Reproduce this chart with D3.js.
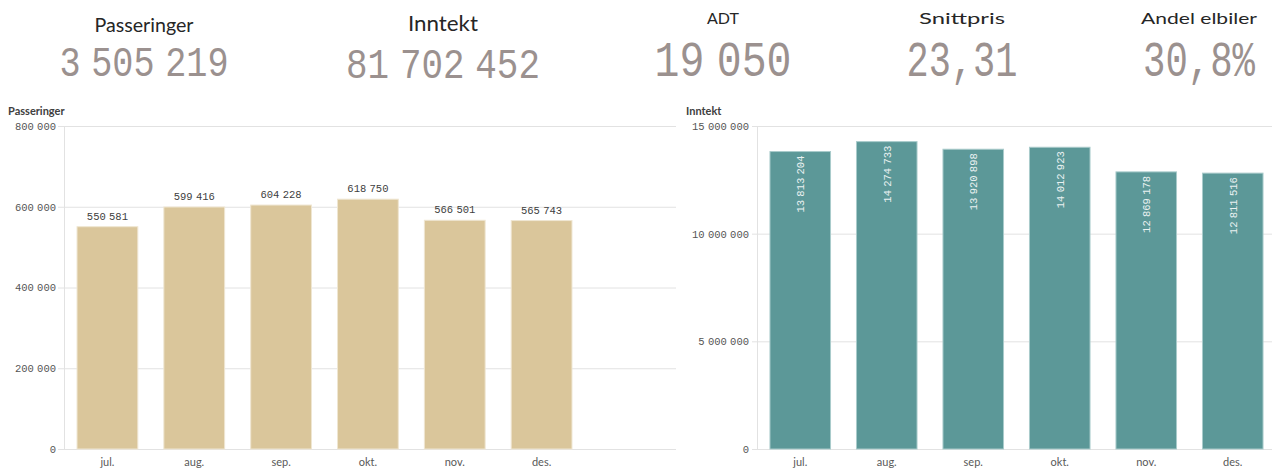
<!DOCTYPE html>
<html><head><meta charset="utf-8">
<script src="https://cdn.jsdelivr.net/npm/d3@7"></script>
<style>
html,body{margin:0;padding:0;background:#fff;}
svg{display:block;}
</style></head>
<body><svg id="c" width="1278" height="471"></svg>
<script>
// ---- data ----
const months = ["jul.", "aug.", "sep.", "okt.", "nov.", "des."];
const passeringer = [550581, 599416, 604228, 618750, 566501, 565743];
const inntekt = [13813204, 14274733, 13920898, 14012923, 12869178, 12811516];
const kpiTitles = ["Passeringer", "Inntekt", "ADT", "Snittpris", "Andel elbiler"];
const kpiValues = ["3 505 219", "81 702 452", "19 050", "23,31", "30,8%"];
const passTicks = [0, 200000, 400000, 600000, 800000];
const inntTicks = [0, 5000000, 10000000, 15000000];

const svg = d3.select("#c");
const mono = "'Liberation Mono', 'DejaVu Sans Mono', monospace";
const sans = "Lato, 'Open Sans', sans-serif";
const fmt = v => d3.format(",")(v).replace(/,/g, " ");

// ---- KPIs ----
const kpiLayout = [
  {cx: 144, ty: 32, ts: 19, tw: 99, vy: 76, vs: 42, vw: 169},
  {cx: 443, ty: 31, ts: 22, tw: 70, vy: 78, vs: 43, vw: 194},
  {cx: 723, ty: 24, ts: 16, tw: 32, vy: 76, vs: 50, vw: 137},
  {cx: 962, ty: 24, ts: 16, tw: 86, vy: 76, vs: 50, vw: 111},
  {cx: 1199, ty: 24, ts: 16, tw: 116, vy: 76, vs: 50, vw: 112}
];
function fitX(sel, cx, cy, target) {
  const n = sel.node().getComputedTextLength();
  sel.attr("x", 0).attr("y", 0)
    .attr("transform", `translate(${cx},${cy}) scale(${target / n},1)`);
}
kpiTitles.forEach((t, i) => {
  const L = kpiLayout[i];
  const tt = svg.append("text").attr("text-anchor", "middle")
    .attr("font-family", sans).attr("font-size", L.ts).attr("fill", "#262626").text(t);
  fitX(tt, L.cx, L.ty, L.tw);
  const vt = svg.append("text").attr("text-anchor", "middle")
    .attr("font-family", mono).attr("font-size", L.vs).attr("fill", "#9b918f")
    .style("word-spacing", (-L.vs * 0.3) + "px").text(kpiValues[i]);
  fitX(vt, L.cx, L.vy, L.vw);
});

// ---- chart builder ----
function chart(o) {
  const g = svg.append("g");
  g.append("text").attr("x", o.titleX).attr("y", 115).attr("font-family", sans)
    .attr("font-weight", "bold").attr("font-size", 11).attr("fill", "#404040").text(o.title);
  const x = d3.scaleBand().domain(months).range([o.x0, o.x1]).paddingInner(0.3).paddingOuter(0.15);
  const y = d3.scaleLinear().domain([0, o.max]).range([449, 126]);
  g.selectAll(".grid").data(o.ticks).join("line")
    .attr("x1", o.gx0).attr("x2", o.gx1).attr("y1", d => y(d) + 0.5).attr("y2", d => y(d) + 0.5)
    .attr("stroke", "#e2e2e2").attr("stroke-width", 1);
  g.append("line").attr("x1", o.x0 + 0.5).attr("x2", o.x0 + 0.5).attr("y1", 126).attr("y2", 449)
    .attr("stroke", "#e2e2e2");
  const ya = d3.axisLeft(y).tickValues(o.ticks).tickFormat(fmt).tickSize(0).tickPadding(0);
  const yg = g.append("g").attr("transform", `translate(${o.labelX},0)`).call(ya);
  yg.select(".domain").remove();
  yg.selectAll("text").attr("font-family", mono).attr("font-size", 10.5).attr("fill", "#555")
    .style("word-spacing", "-3px");
  g.selectAll(".bar").data(o.values).join("rect")
    .attr("x", (d, i) => x(months[i])).attr("width", x.bandwidth())
    .attr("y", d => y(d)).attr("height", d => 449 - y(d))
    .attr("fill", o.color).attr("stroke", o.stroke).attr("stroke-width", 1);
  const xa = d3.axisBottom(x).tickSize(0).tickPadding(0);
  const xg = g.append("g").attr("transform", "translate(0,458)").call(xa);
  xg.select(".domain").remove();
  xg.selectAll("text").attr("font-family", sans).attr("font-size", 11).attr("fill", "#595959").attr("dy", "0.71em");
  return {g, x, y};
}

const c1 = chart({title: "Passeringer", titleX: 8, x0: 64, x1: 585, max: 800000,
  ticks: passTicks, values: passeringer, gx0: 58, gx1: 676, labelX: 56,
  color: "#dac69b", stroke: "#efe6d2"});
c1.g.selectAll(".vl").data(passeringer).join("text")
  .attr("x", (d, i) => c1.x(months[i]) + c1.x.bandwidth() / 2).attr("y", d => c1.y(d) - 7)
  .attr("text-anchor", "middle").attr("font-family", mono).attr("font-size", 10.5)
  .style("word-spacing", "-3px")
  .attr("fill", "#404040").text(fmt);

const c2 = chart({title: "Inntekt", titleX: 686, x0: 757, x1: 1276, max: 15000000,
  ticks: inntTicks, values: inntekt, gx0: 752, gx1: 1272, labelX: 749,
  color: "#5c9898", stroke: "#a9cbcb"});
c2.g.selectAll(".vl").data(inntekt).join("text")
  .attr("transform", (d, i) => `translate(${c2.x(months[i]) + c2.x.bandwidth() / 2 + 4},${c2.y(d) + 4}) rotate(-90)`)
  .attr("text-anchor", "end").attr("font-family", mono).attr("font-size", 10.5)
  .style("word-spacing", "-3px")
  .attr("fill", "#e9f1f1").text(fmt);
</script></body></html>
